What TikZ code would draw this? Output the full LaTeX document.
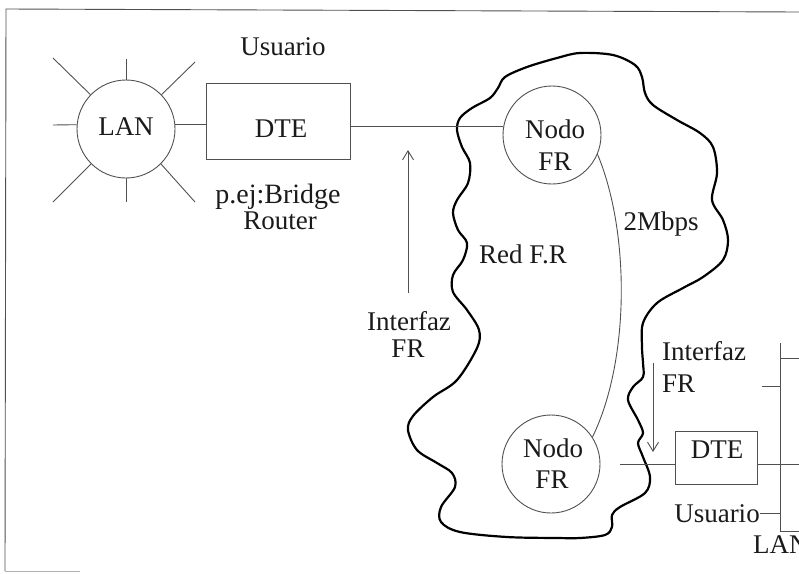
\documentclass[tikz,border=0pt]{standalone}
\usepackage{fontspec}
\setmainfont{Liberation Serif}
\usetikzlibrary{arrows.meta}
\definecolor{ink}{HTML}{1A1A1A}
\definecolor{thin}{HTML}{505050}
\begin{document}
\begin{tikzpicture}[x=1pt,y=-1pt,
  thinline/.style={draw=thin, line width=0.9pt},
  cloudline/.style={draw=black, line width=2.2pt, line join=round},
  txt/.style={text=ink, font=\fontsize{27}{30}\selectfont, inner sep=0pt, anchor=base},
  txtw/.style={txt, anchor=base west},
  circ/.style={circle, draw=thin, line width=0.9pt, minimum size=98pt, inner sep=0pt},
  box/.style={rectangle, draw=thin, line width=0.9pt, inner sep=0pt},
  arr/.style={thinline, -{Straight Barb[length=9pt,width=11pt]}}
]
\useasboundingbox (0,0) rectangle (799,573);
% frame
\coordinate (f1) at (6,9);
\coordinate (f2) at (799,12);
\coordinate (f3) at (5,571);
\coordinate (f4) at (80,571);
\draw[thinline] (f2) -- (f1) -- (f3);
\draw[draw=thin!45, line width=0.9pt] (f3) -- (f4);

% LAN star
\node[circ] (lan) at (126,129) {};
\node[txt] (lant) at (126,135) {LAN};
\coordinate (rt) at (126,59);
\coordinate (rb) at (126,202);
\coordinate (rl) at (53,125);
\coordinate (rul) at (53,58);
\coordinate (rur) at (195,62);
\coordinate (rll) at (53,202);
\coordinate (rlr) at (195,202);
\draw[thinline] (lan.90) -- (rt);
\draw[thinline] (lan.270) -- (rb);
\draw[thinline] (lan.175) -- (rl);
\draw[thinline] (lan.136) -- (rul);
\draw[thinline] (lan.44) -- (rur);
\draw[thinline] (lan.225) -- (rll);
\draw[thinline] (lan.315) -- (rlr);

% DTE left
\node[box, minimum width=144pt, minimum height=76pt] (dte) at (278,121) {};
\node[txt] (dtet) at (281,137) {DTE};
\draw[thinline] (lan.5) -- (lan.5 -| dte.west);
\node[txt] (usr1) at (283,55) {Usuario};
\node[txt, font=\fontsize{28}{30}\selectfont] (pej) at (278,203) {p.ej:Bridge};
\node[txt] (rtr) at (280,229) {Router};

% cloud
\draw[cloudline] plot[smooth cycle, tension=0.55] coordinates {
 (580,53) (613,55) (635,65) (642,77) (645,93) (653,105) (677,120) (700,133)
 (713,147) (717,173) (712,200) (723,220) (728,240) (723,260) (703,277)
 (683,288) (657,303) (643,323) (642,347) (643,363) (643,377) (633,387)
 (628,400) (638,420) (643,433) (638,443) (643,457) (650,477) (645,493)
 (620,507) (612,515) (612,527) (605,535) (580,538) (557,538) (507,537)
 (460,532) (441,522) (441,507) (455,487) (452,473) (437,463) (417,450)
 (408,430) (413,416) (433,397) (457,380) (477,348) (479,330) (467,310)
 (453,292) (453,275) (463,260) (467,243) (458,230) (453,213) (457,200)
 (468,183) (470,163) (462,147) (457,130) (460,118) (472,108) (490,98)
 (498,88) (505,77) (527,67) (557,58)};

% FR nodes
\node[circ] (n1) at (552,135) {};
\node[txt] (n1a) at (555,138) {Nodo};
\node[txt] (n1b) at (555,170) {FR};
\node[circ] (n2) at (551,464) {};
\node[txt] (n2a) at (553,457) {Nodo};
\node[txt] (n2b) at (552,488) {FR};
\draw[thinline] ([yshift=-5pt]dte.east) -- ([yshift=-5pt]dte.east -| n1.west);
\draw[thinline] (n1.-23) .. controls (630,232) and (630,360) .. (n2.33);
\node[txt] (mbps) at (661,230) {2Mbps};
\node[txt] (red) at (523,263) {Red F.R};

% left interface
\coordinate (a1s) at (408,293);
\coordinate (a1e) at (408,150);
\draw[arr] (a1s) -- (a1e);
\node[txt] (if1a) at (409,330) {Interfaz};
\node[txt] (if1b) at (408,357) {FR};

% right interface
\node[txtw] (if2a) at (662,360) {Interfaz};
\node[txtw] (if2b) at (662,392) {FR};
\coordinate (a2s) at (653,363);
\coordinate (a2e) at (653,452);
\draw[arr] (a2s) -- (a2e);

% right DTE and LAN bus
\node[box, minimum width=82pt, minimum height=53pt] (dte2) at (716,457.5) {};
\node[txt] (dte2t) at (717,458) {DTE};
\coordinate (l2a) at (620,464);
\coordinate (l2b) at (799,464);
\draw[thinline] (l2a) -- (l2a -| dte2.west);
\draw[thinline] (dte2.east |- l2b) -- (l2b);
\coordinate (bt) at (780,343);
\coordinate (bb) at (780,531);
\coordinate (t1) at (799,358);
\coordinate (t2) at (762,386);
\coordinate (t3) at (799,531);
\draw[thinline] (bt) -- (bb) -- (t3);
\draw[thinline] (bt |- t1) -- (t1);
\draw[thinline] (t2) -- (t2 -| bt);
\node[txt] (usr2) at (717,522) {Usuario};
\draw[thinline] (usr2.east) -- (usr2.east -| bt);
\node[txtw] (lan2) at (753,553) {LAN};
\end{tikzpicture}
\end{document}
